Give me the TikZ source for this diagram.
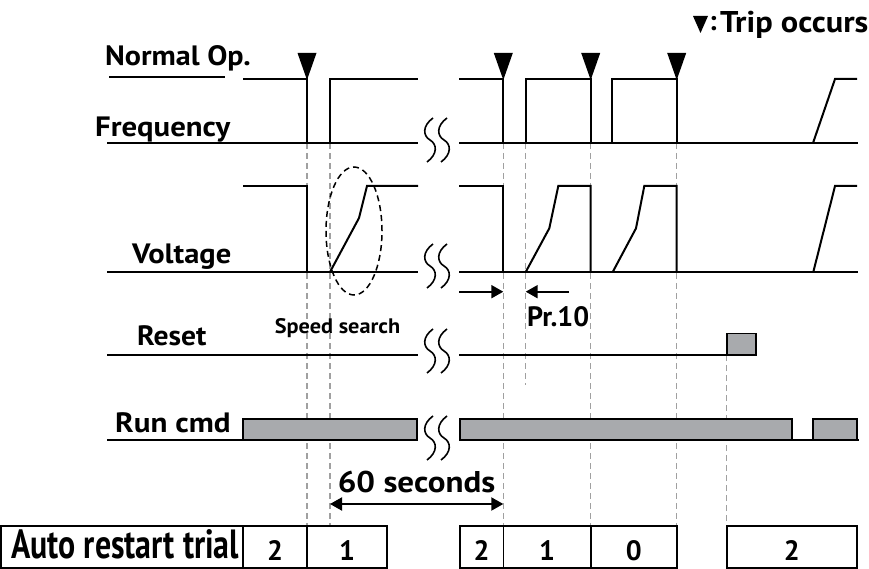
\documentclass[tikz,border=0pt]{standalone}
\usepackage{fontspec}
\setmainfont{PT Sans}
\usetikzlibrary{arrows.meta}
\definecolor{barg}{RGB}{168,170,173}
\definecolor{guideg}{RGB}{160,160,160}
\tikzset{
  wave/.style={line width=2pt},
  axisline/.style={line width=2.6pt},
  guide/.style={draw=guideg, line width=1.3pt, dash pattern=on 6pt off 4pt},
  bar/.style={fill=barg, draw=black, line width=1.6pt},
  cell/.style={draw=black, line width=1.6pt},
  lbl/.style={font=\bfseries\fontsize{28}{28}\selectfont, inner sep=0pt},
  biglbl/.style={font=\bfseries\fontsize{30}{30}\selectfont, inner sep=0pt},
  smalllbl/.style={font=\bfseries\fontsize{21}{21}\selectfont, inner sep=0pt},
  digit/.style={font=\bfseries\fontsize{28}{28}\selectfont, inner sep=0pt, anchor=base},
  brk/.style={line width=1.6pt},
  arr/.style={line width=2pt, -{Triangle[length=12pt,width=13pt]}},
  ell/.style={line width=1.5pt, dash pattern=on 6pt off 4pt},
}
\begin{document}
\begin{tikzpicture}[x=1pt,y=-1pt]
\useasboundingbox (0,0) rectangle (869,569);

% guide lines
\draw[guide] (307,143) -- (307,525.7);
\draw[guide] (330,143) -- (330,525.7);
\draw[guide] (503.3,143) -- (503.3,525.7);
\draw[guide] (525.7,143) -- (525.7,385);
\draw[guide] (590.7,143) -- (590.7,525.7);
\draw[guide] (676.7,143) -- (676.7,525.7);
\draw[guide] (726.7,355) -- (726.7,525.7);

% labels
\node[lbl, anchor=base west] (nop) at (105,66) {\scalebox{1.075}[1]{Normal Op.}};
\draw[wave] (109,77) -- (225,77);
\node[lbl, anchor=base west] (freq) at (95,137) {\scalebox{1.10}[1]{Frequency}};
\node[lbl, anchor=base west] (volt) at (132,263) {\scalebox{1.09}[1]{Voltage}};
\node[lbl, anchor=base west] (reset) at (137,345) {\scalebox{1.056}[1]{Reset}};
\node[lbl, anchor=base west] (run) at (115,432) {\scalebox{1.11}[1]{Run cmd}};
\node[smalllbl, anchor=base] (ss) at (337.5,333) {\scalebox{1.06}[1]{Speed search}};
\node[lbl, anchor=base west] (pr) at (527,326) {Pr.10};
\node[biglbl, anchor=base] (sixty) at (416.5,492) {\scalebox{1.1}[1]{60 seconds}};

% legend
\fill (693,16) -- (708,16) -- (700.5,33) -- cycle;
\node[lbl, anchor=base west] (colon) at (709,31) {:};
\node[biglbl, anchor=base west] (legend) at (720,33) {\scalebox{1.08}[1]{Trip occurs}};

% frequency
\draw[axisline] (107,143) -- (418,143);
\draw[wave] (243,79) -- (307,79) -- (307,143);
\draw[wave] (330,143) -- (330,79) -- (418,79);
\draw[axisline] (459,143) -- (858,143);
\draw[wave] (459,79) -- (503.3,79) -- (503.3,143);
\draw[wave] (525.7,143) -- (525.7,79) -- (590.7,79) -- (590.7,143);
\draw[wave] (611.7,143) -- (611.7,79) -- (676.7,79) -- (676.7,143);
\draw[wave] (813,143) -- (835,79) -- (857,79);
\foreach \x in {307,503.3,590.7,676.7}
  \fill (\x-9.5,53) -- (\x+9.5,53) -- (\x,80) -- cycle;

% voltage
\draw[axisline] (107,272) -- (418,272);
\draw[wave] (243,186) -- (307,186) -- (307,272);
\draw[wave] (330,272) -- (359,218) -- (367,186) -- (418,186);
\draw[axisline] (459,272) -- (858,272);
\draw[wave] (459,186) -- (503.3,186) -- (503.3,272);
\draw[wave] (525.7,272) -- (549.3,228.3) -- (558.3,186) -- (590.7,186) -- (590.7,272);
\draw[wave] (612.7,272) -- (636,228.3) -- (644.3,186) -- (676.7,186) -- (676.7,272);
\draw[wave] (813.3,272) -- (835,186) -- (857,186);
\draw[ell] (354,231) ellipse [x radius=28pt, y radius=64pt];

% Pr.10 arrows
\coordinate (pa1) at (459,291.7);
\coordinate (pb1) at (503.3,291.7);
\coordinate (pa2) at (569,291.7);
\coordinate (pb2) at (525.7,291.7);
\draw[arr] (pa1) -- (pb1);
\draw[arr] (pa2) -- (pb2);

% reset
\draw[axisline] (107,355) -- (418,355);
\draw[axisline] (459,355) -- (727,355);
\draw[bar] (726.7,333.3) rectangle (755.7,355);

% run cmd
\draw[axisline] (107,440) -- (243,440);
\draw[bar] (243,419) rectangle (417,440);
\draw[bar] (460,419) rectangle (792,440);
\draw[bar] (813,419) rectangle (857,440);
\draw[axisline] (243,440) -- (417,440);
\draw[axisline] (460,440) -- (859,440);

% break marks
\foreach \c in {140,266,351,438}
  \foreach \x in {430,444}
    \draw[brk] (\x+3,\c-22) .. controls (\x-8,\c-14) and (\x-7,\c-4) .. (\x,\c)
               .. controls (\x+7,\c+4) and (\x+8,\c+14) .. (\x-3,\c+22);

% 60 seconds arrow
\coordinate (s1) at (330,504);
\coordinate (s2) at (503.3,504);
\draw[line width=2pt, {Triangle[length=12pt,width=13pt]}-{Triangle[length=12pt,width=13pt]}] (s1) -- (s2);

% table
\draw[cell] (1,525.7) rectangle (243,568);
\node[inner sep=0pt, anchor=base west] (art) at (11,558) {\resizebox{228pt}{29pt}{\bfseries\fontsize{40}{40}\selectfont Auto restart trial}};
\draw[cell] (243,525.7) rectangle (307,568);
\node[digit] (c1) at (275,560) {2};
\draw[cell] (307,525.7) rectangle (387,568);
\node[digit] (c2) at (347,560) {1};
\draw[cell] (460,525.7) rectangle (503.3,568);
\node[digit] (c3) at (481.6,560) {2};
\draw[cell] (503.3,525.7) rectangle (590.7,568);
\node[digit] (c4) at (547,560) {1};
\draw[cell] (590.7,525.7) rectangle (676.7,568);
\node[digit] (c5) at (633.7,560) {0};
\draw[cell] (726.7,525.7) rectangle (857,568);
\node[digit] (c6) at (791.8,560) {2};
\end{tikzpicture}
\end{document}
